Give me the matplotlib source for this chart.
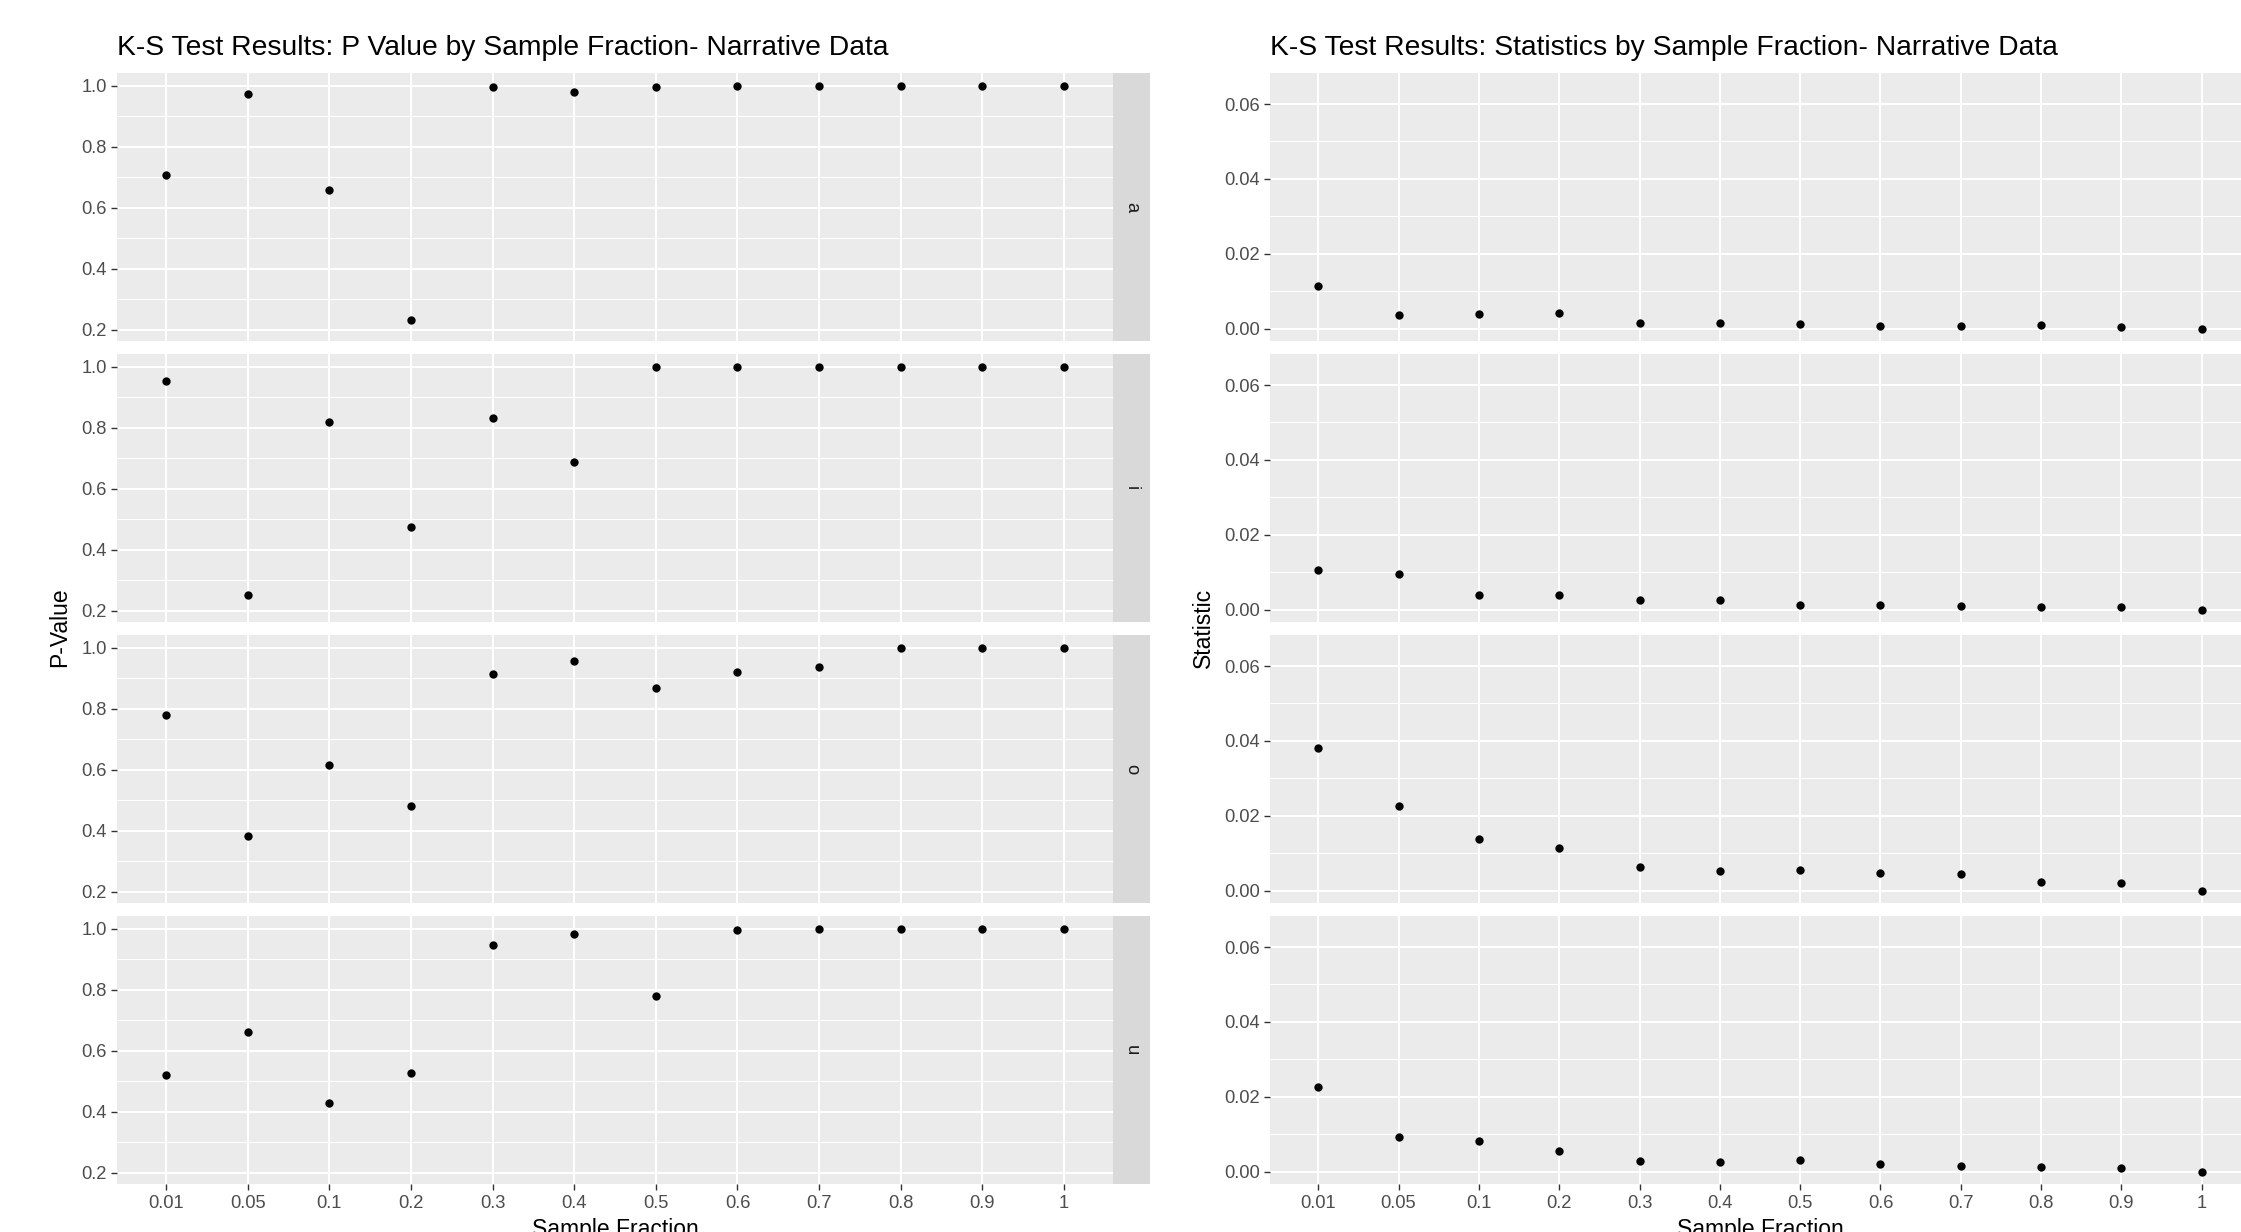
import matplotlib.pyplot as plt
import numpy as np

plt.rcParams['font.family'] = ['Liberation Sans', 'DejaVu Sans']

# Data
fractions = ["0.01", "0.05", "0.1", "0.2", "0.3", "0.4", "0.5", "0.6", "0.7", "0.8", "0.9", "1"]
vowels = ["a", "i", "o", "u"]

pvalue_a = [0.707, 0.973, 0.659, 0.232, 0.995, 0.980, 0.997, 1.0, 1.0, 1.0, 1.0, 1.0]
pvalue_i = [0.953, 0.251, 0.818, 0.476, 0.832, 0.687, 1.0, 1.0, 1.0, 1.0, 1.0, 1.0]
pvalue_o = [0.780, 0.382, 0.616, 0.481, 0.916, 0.958, 0.869, 0.920, 0.939, 1.0, 1.0, 1.0]
pvalue_u = [0.519, 0.662, 0.427, 0.527, 0.948, 0.982, 0.781, 0.996, 1.0, 1.0, 1.0, 1.0]

stat_a = [0.0115, 0.0036, 0.0040, 0.0042, 0.0014, 0.0014, 0.0013, 0.0007, 0.0007, 0.0010, 0.0004, 0.0]
stat_i = [0.0106, 0.0094, 0.0040, 0.0040, 0.0026, 0.0026, 0.0011, 0.0011, 0.0009, 0.0006, 0.0006, 0.0]
stat_o = [0.0382, 0.0225, 0.0138, 0.0113, 0.0063, 0.0051, 0.0055, 0.0048, 0.0044, 0.0023, 0.0019, 0.0]
stat_u = [0.0227, 0.0092, 0.0081, 0.0056, 0.0029, 0.0025, 0.0032, 0.0019, 0.0014, 0.0012, 0.0009, 0.0]

pvalues = [pvalue_a, pvalue_i, pvalue_o, pvalue_u]
stats = [stat_a, stat_i, stat_o, stat_u]

W, H = 2241, 1232
PANEL_BG = "#EBEBEB"
STRIP_BG = "#D9D9D9"
TICK_COLOR = "#4D4D4D"


def px_box(x0, y0, x1, y1):
    """pixel box (top-left origin) -> figure fraction rect"""
    return [x0 / W, 1 - y1 / H, (x1 - x0) / W, (y1 - y0) / H]


def style_panel(ax, ylim, major, minor, fmt, show_x):
    ax.set_facecolor(PANEL_BG)
    for s in ax.spines.values():
        s.set_visible(False)
    ax.set_xlim(-0.6, len(fractions) - 0.4)
    ax.set_ylim(*ylim)
    ax.set_yticks(major)
    ax.set_yticklabels([fmt.format(v) for v in major])
    ax.set_yticks(minor, minor=True)
    ax.set_xticks(np.arange(len(fractions)))
    ax.set_xticklabels(fractions if show_x else [])
    ax.grid(True, which='major', color='white', linewidth=1.5)
    ax.grid(True, which='minor', axis='y', color='white', linewidth=0.75)
    ax.set_axisbelow(True)
    ax.tick_params(which='major', length=4.3, width=1.0, color='#333333',
                   labelcolor=TICK_COLOR, labelsize=13.2, pad=3)
    ax.tick_params(which='minor', length=0)
    ax.tick_params(axis='x', bottom=show_x, labelbottom=show_x, pad=4)


fig = plt.figure(figsize=(W / 100, H / 100), dpi=100)

top0 = 73
panel_h = 267.5
gap = 13.5
tops = [top0 + k * (panel_h + gap) for k in range(4)]
xs = np.arange(len(fractions))

for k, v in enumerate(vowels):
    y0 = tops[k]
    y1 = y0 + panel_h
    last = k == len(vowels) - 1

    # left: p-values
    ax = fig.add_axes(px_box(117, y0, 1113, y1))
    style_panel(ax, (0.164, 1.0426), [0.2, 0.4, 0.6, 0.8, 1.0], [0.3, 0.5, 0.7, 0.9],
                "{:.1f}", last)
    ax.scatter(xs, pvalues[k], s=36, color='black', zorder=3, linewidths=0)

    strip = fig.add_axes(px_box(1113, y0, 1150, y1))
    strip.set_facecolor(STRIP_BG)
    strip.set_xticks([])
    strip.set_yticks([])
    for s in strip.spines.values():
        s.set_visible(False)
    strip.text(0.5, 0.5, v, rotation=270, ha='center', va='center',
               fontsize=13.2, color='#1A1A1A', transform=strip.transAxes)

    # right: statistics (cut off at the right edge)
    ax2 = fig.add_axes(px_box(1270, y0, 2250, y1))
    style_panel(ax2, (-0.0032, 0.0683), [0.0, 0.02, 0.04, 0.06], [0.01, 0.03, 0.05],
                "{:.2f}", last)
    ax2.scatter(xs, stats[k], s=36, color='black', zorder=3, linewidths=0)

# titles and axis labels
fig.text(117 / W, 1 - 55 / H, "K-S Test Results: P Value by Sample Fraction- Narrative Data",
         fontsize=20.3, ha='left', va='baseline', color='black')
fig.text(1270 / W, 1 - 55 / H, "K-S Test Results: Statistics by Sample Fraction- Narrative Data",
         fontsize=20.3, ha='left', va='baseline', color='black')

fig.text(60 / W, 1 - 627 / H, "P-Value", rotation=90, ha='center', va='center', fontsize=16.5)
fig.text(1203 / W, 1 - 628 / H, "Statistic", rotation=90, ha='center', va='center', fontsize=16.5)

fig.text(615 / W, 1 - 1218 / H, "Sample Fraction", ha='center', va='top', fontsize=16.5)
fig.text(1760 / W, 1 - 1218 / H, "Sample Fraction", ha='center', va='top', fontsize=16.5)

plt.savefig("out.png", dpi=100)
plt.close()
